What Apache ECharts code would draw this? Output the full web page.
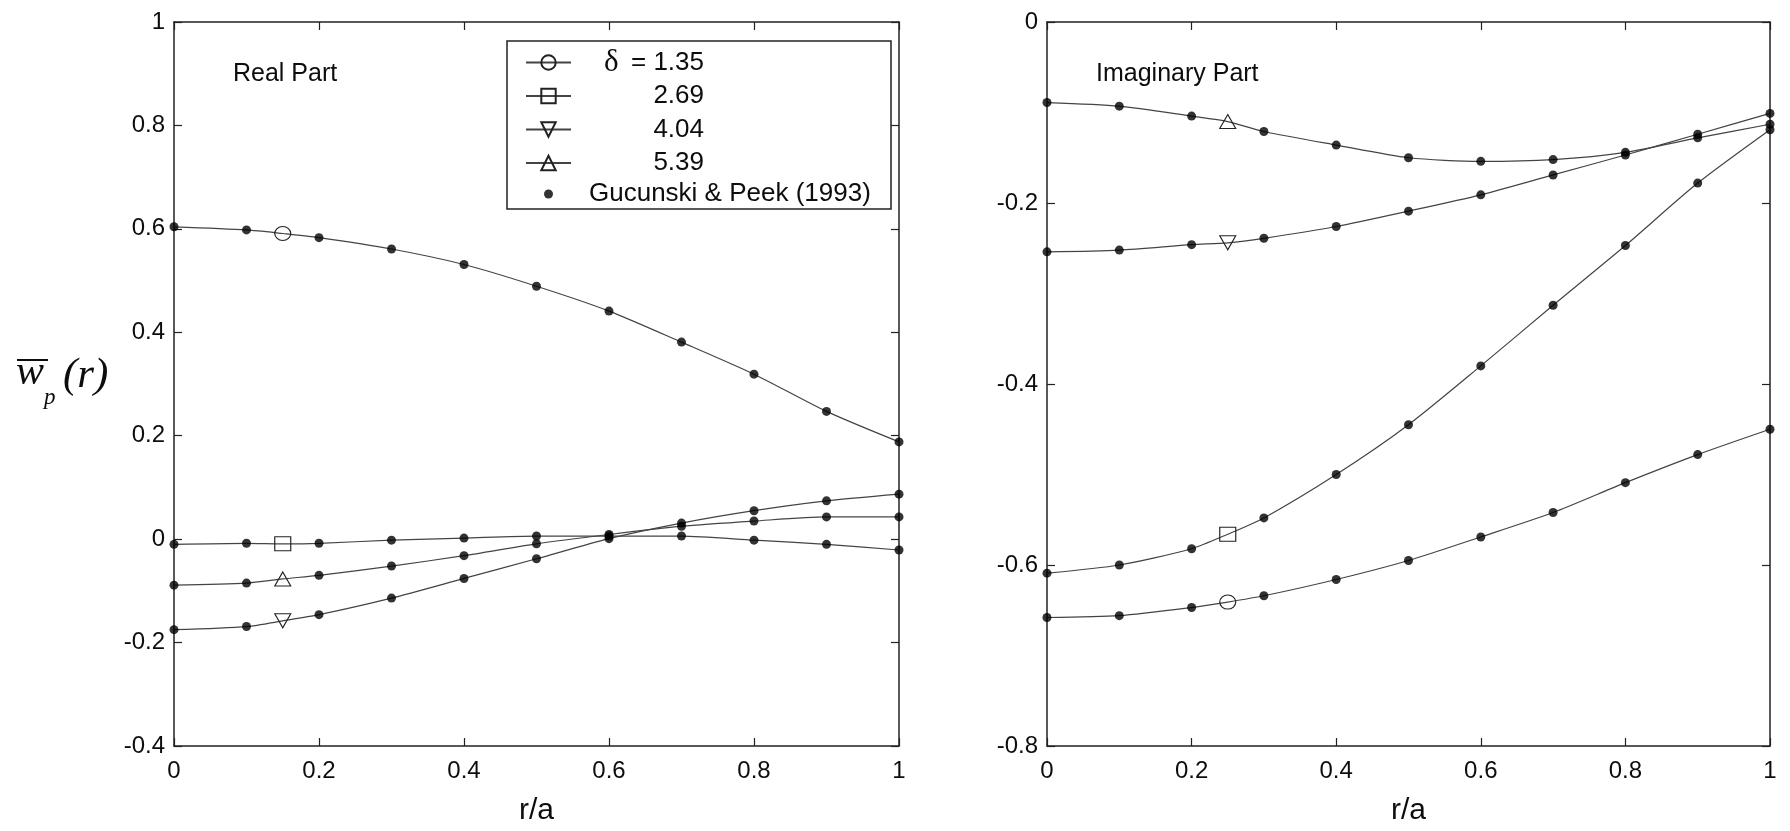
<!DOCTYPE html>
<html><head><meta charset="utf-8">
<script src="https://cdn.jsdelivr.net/npm/echarts@6/dist/echarts.min.js"></script>
<style>html,body{margin:0;padding:0;background:#fff}#c{width:1790px;height:831px}</style>
</head><body><div id="c"></div>
<script>
// ---------- data ----------
const rOverA = [0, 0.1, 0.2, 0.3, 0.4, 0.5, 0.6, 0.7, 0.8, 0.9, 1.0];
const deltaNames = ['δ = 1.35', '2.69', '4.04', '5.39'];
const gpName = 'Gucunski & Peek (1993)';

// Real part
const realD135 = [0.604, 0.598, 0.583, 0.561, 0.531, 0.489, 0.441, 0.381, 0.319, 0.247, 0.188];
const realD269 = [-0.010, -0.008, -0.008, -0.002, 0.002, 0.006, 0.006, 0.006, -0.002, -0.010, -0.021];
const realD404 = [-0.175, -0.169, -0.146, -0.114, -0.076, -0.038, 0.001, 0.031, 0.055, 0.074, 0.087];
const realD539 = [-0.089, -0.085, -0.070, -0.052, -0.032, -0.009, 0.009, 0.025, 0.035, 0.043, 0.043];
const realMarkerX = 0.15;
const realMarkerY = [0.591, -0.009, -0.158, -0.077];

// Imaginary part
const imagD135 = [-0.658, -0.656, -0.647, -0.634, -0.616, -0.595, -0.569, -0.542, -0.509, -0.478, -0.450];
const imagD269 = [-0.609, -0.600, -0.582, -0.548, -0.500, -0.445, -0.380, -0.313, -0.247, -0.178, -0.119];
const imagD404 = [-0.254, -0.252, -0.246, -0.239, -0.226, -0.209, -0.191, -0.169, -0.147, -0.124, -0.101];
const imagD539 = [-0.089, -0.093, -0.104, -0.121, -0.136, -0.150, -0.154, -0.152, -0.144, -0.128, -0.113];
const imagMarkerX = 0.25;
const imagMarkerY = [-0.641, -0.566, -0.244, -0.110];

// ---------- styles ----------
const SANS = "'Liberation Sans', Arial, Helvetica, sans-serif";
const SERIF = "'Liberation Serif', 'Times New Roman', serif";
const INK = '#0d0d0d';
const symbols = ['circle', 'rect', 'triangle', 'triangle'];
const rotations = [0, 0, 180, 0];

function lineSeries(idx, values, mx, my, gi) {
  const pts = rOverA.map((x, i) => ({ value: [x, values[i]], symbol: 'none' }));
  let k = pts.findIndex(p => p.value[0] > mx);
  pts.splice(k, 0, { value: [mx, my] });
  return {
    type: 'line', name: deltaNames[idx], xAxisIndex: gi * 2, yAxisIndex: gi * 2,
    data: pts, symbol: symbols[idx], symbolRotate: rotations[idx], symbolSize: [16, 14],
    showSymbol: true, smooth: 0.25,
    lineStyle: { color: '#444', width: 1.2 },
    itemStyle: { color: 'rgba(0,0,0,0)', borderColor: '#222', borderWidth: 1.1 },
    emphasis: { disabled: true }, z: 3
  };
}
function dotSeries(arrays, gi) {
  const d = [];
  arrays.forEach(a => rOverA.forEach((x, i) => d.push([x, a[i]])));
  return {
    type: 'scatter', name: gpName, xAxisIndex: gi * 2, yAxisIndex: gi * 2,
    data: d, symbol: 'circle', symbolSize: 9,
    itemStyle: { color: '#000' }, emphasis: { disabled: true }, z: 4
  };
}

const realSets = [realD135, realD269, realD404, realD539];
const imagSets = [imagD135, imagD269, imagD404, imagD539];
const series = [];
realSets.forEach((a, i) => series.push(lineSeries(i, a, realMarkerX, realMarkerY[i], 0)));
imagSets.forEach((a, i) => series.push(lineSeries(i, a, imagMarkerX, imagMarkerY[i], 1)));
series.push(dotSeries(realSets, 0));
series.push(dotSeries(imagSets, 1));

const axisBase = {
  type: 'value',
  axisLine: { show: true, onZero: false, lineStyle: { color: '#222', width: 1.5 } },
  axisTick: { show: true, inside: true, length: 8, lineStyle: { color: '#222', width: 1.2 } },
  splitLine: { show: false },
  axisLabel: { color: INK, fontSize: 24, fontFamily: SANS }
};
function ax(extra) { return Object.assign({}, JSON.parse(JSON.stringify(axisBase)), extra); }
const nameStyle = { color: INK, fontSize: 30, fontFamily: SANS };
const lblX = { color: INK, fontSize: 24, fontFamily: SANS, margin: 13 };
const lblY = { color: INK, fontSize: 24, fontFamily: SANS, margin: 9 };

const xAxis = [
  ax({ gridIndex: 0, min: 0, max: 1, interval: 0.2, position: 'bottom', name: 'r/a', nameLocation: 'middle', nameGap: 50, nameTextStyle: nameStyle, axisLabel: lblX }),
  ax({ gridIndex: 0, min: 0, max: 1, interval: 0.2, position: 'top', axisLabel: { show: false } }),
  ax({ gridIndex: 1, min: 0, max: 1, interval: 0.2, position: 'bottom', name: 'r/a', nameLocation: 'middle', nameGap: 50, nameTextStyle: nameStyle, axisLabel: lblX }),
  ax({ gridIndex: 1, min: 0, max: 1, interval: 0.2, position: 'top', axisLabel: { show: false } })
];
const yAxis = [
  ax({ gridIndex: 0, min: -0.4, max: 1, interval: 0.2, position: 'left', axisLabel: lblY }),
  ax({ gridIndex: 0, min: -0.4, max: 1, interval: 0.2, position: 'right', axisLabel: { show: false } }),
  ax({ gridIndex: 1, min: -0.8, max: 0, interval: 0.2, position: 'left', axisLabel: lblY }),
  ax({ gridIndex: 1, min: -0.8, max: 0, interval: 0.2, position: 'right', axisLabel: { show: false } })
];

const legendData = deltaNames.map(n => ({ name: n }));
legendData.push({ name: gpName, icon: 'path://M-2,-2L-2,-2M2,2L2,2M1,0A1,1,0,1,1,-1,0A1,1,0,1,1,1,0Z' });

const option = {
  animation: false,
  backgroundColor: '#fff',
  grid: [
    { left: 174, top: 22, width: 725, height: 724 },
    { left: 1047, top: 22, width: 723, height: 724 }
  ],
  xAxis, yAxis, series,
  legend: {
    orient: 'vertical', left: 507, top: 41, padding: [6, 18, 2, 18],
    itemWidth: 45, itemHeight: 18, itemGap: 2.5,
    borderColor: '#222', borderWidth: 1.5, backgroundColor: '#fff',
    selectedMode: false, data: legendData,
    formatter: function (name) {
      if (name === gpName) return '{q|}{g|' + name + '}';
      if (name === deltaNames[0]) return '{p|}{d|δ}{v|= 1.35}';
      return '{p|}{d|}{v|' + name + '}';
    },
    textStyle: {
      color: INK, fontFamily: SANS, fontSize: 26,
      rich: {
        p: { width: 28, lineHeight: 30 },
        d: { width: 28, fontFamily: SERIF, fontSize: 31, lineHeight: 30, color: INK },
        v: { width: 72, align: 'right', fontSize: 26, fontFamily: SANS, lineHeight: 30, color: INK },
        q: { width: 13, lineHeight: 30 },
        g: { width: 284, fontSize: 26, fontFamily: SANS, lineHeight: 30, color: INK }
      }
    }
  },
  graphic: [
    { type: 'text', left: 233, top: 62, style: { text: 'Real Part', font: '25px ' + SANS, fill: INK } },
    { type: 'text', left: 1096, top: 62, style: { text: 'Imaginary Part', font: '25px ' + SANS, fill: INK } },
    { type: 'text', left: 16, top: 352, style: { text: 'w', font: 'italic 42px ' + SERIF, fill: INK } },
    { type: 'line', shape: { x1: 17, y1: 360, x2: 48, y2: 360 }, style: { stroke: INK, lineWidth: 2 } },
    { type: 'text', left: 44, top: 386, style: { text: 'p', font: 'italic 23px ' + SERIF, fill: INK } },
    { type: 'text', left: 63, top: 354, style: { text: '(r)', font: 'italic 43px ' + SERIF, fill: INK } }
  ]
};
const chart = echarts.init(document.getElementById('c'), null, { renderer: 'canvas' });
chart.setOption(option);
</script>
</body></html>
